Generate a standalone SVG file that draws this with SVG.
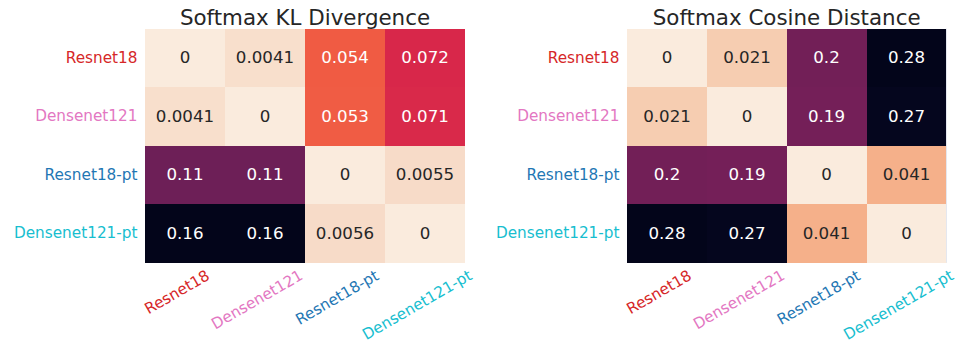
<svg xmlns="http://www.w3.org/2000/svg" width="959" height="347" viewBox="0 0 959 347">
  <style>
    text { font-family: "DejaVu Sans", "Liberation Sans", sans-serif; }
    .title { font-size: 21.4px; fill: #262626; text-anchor: middle; }
    .val { font-size: 16.67px; text-anchor: middle; }
    .dk { fill: #262626; }
    .lt { fill: #ffffff; }
    .ylab { font-size: 15.28px; text-anchor: end; }
    .xlab { font-size: 15.28px; text-anchor: middle; }
    .c-r18 { fill: #d62728; }
    .c-d121 { fill: #e377c2; }
    .c-r18pt { fill: #1f77b4; }
    .c-d121pt { fill: #17becf; }
  </style>

  <rect width="959" height="347" fill="#ffffff"/>

  <!-- Left heatmap: softmax KL divergence -->
  <g id="kl-heatmap">
    <text class="title" x="305" y="24.7">Softmax KL Divergence</text>
    <g id="kl-cells" shape-rendering="crispEdges">
      <rect x="145" y="28.6" width="80" height="58.5" fill="#faebdd"/>
      <rect x="225" y="28.6" width="80" height="58.5" fill="#f8dfcc"/>
      <rect x="305" y="28.6" width="80" height="58.5" fill="#f05b43"/>
      <rect x="385" y="28.6" width="80" height="58.5" fill="#d8274a"/>

      <rect x="145" y="87.1" width="80" height="58.5" fill="#f8dfcc"/>
      <rect x="225" y="87.1" width="80" height="58.5" fill="#faebdd"/>
      <rect x="305" y="87.1" width="80" height="58.5" fill="#f05c44"/>
      <rect x="385" y="87.1" width="80" height="58.5" fill="#d9294a"/>

      <rect x="145" y="145.6" width="80" height="58.5" fill="#6d1f57"/>
      <rect x="225" y="145.6" width="80" height="58.5" fill="#6d1f57"/>
      <rect x="305" y="145.6" width="80" height="58.5" fill="#faebdd"/>
      <rect x="385" y="145.6" width="80" height="58.5" fill="#f7dbc8"/>

      <rect x="145" y="204.1" width="80" height="58.5" fill="#03051a"/>
      <rect x="225" y="204.1" width="80" height="58.5" fill="#03051a"/>
      <rect x="305" y="204.1" width="80" height="58.5" fill="#f7dbc8"/>
      <rect x="385" y="204.1" width="80" height="58.5" fill="#faebdd"/>
    </g>
    <g id="kl-values">
      <text class="val dk" x="185" y="63.2">0</text>
      <text class="val dk" x="265" y="63.2">0.0041</text>
      <text class="val lt" x="345" y="63.2">0.054</text>
      <text class="val lt" x="425" y="63.2">0.072</text>

      <text class="val dk" x="185" y="121.7">0.0041</text>
      <text class="val dk" x="265" y="121.7">0</text>
      <text class="val lt" x="345" y="121.7">0.053</text>
      <text class="val lt" x="425" y="121.7">0.071</text>

      <text class="val lt" x="185" y="180.2">0.11</text>
      <text class="val lt" x="265" y="180.2">0.11</text>
      <text class="val dk" x="345" y="180.2">0</text>
      <text class="val dk" x="425" y="180.2">0.0055</text>

      <text class="val lt" x="185" y="238.7">0.16</text>
      <text class="val lt" x="265" y="238.7">0.16</text>
      <text class="val dk" x="345" y="238.7">0.0056</text>
      <text class="val dk" x="425" y="238.7">0</text>
    </g>
    <g id="kl-ylabels">
      <text class="ylab c-r18" x="137.5" y="62.5">Resnet18</text>
      <text class="ylab c-d121" x="137.5" y="121">Densenet121</text>
      <text class="ylab c-r18pt" x="137.5" y="179.5">Resnet18-pt</text>
      <text class="ylab c-d121pt" x="137.5" y="238">Densenet121-pt</text>
    </g>
    <g id="kl-xlabels">
      <text class="xlab c-r18" x="179.7" y="296.6" transform="rotate(-30 179.7 296.6)">Resnet18</text>
      <text class="xlab c-d121" x="259.7" y="304.1" transform="rotate(-30 259.7 304.1)">Densenet121</text>
      <text class="xlab c-r18pt" x="339.7" y="301.9" transform="rotate(-30 339.7 301.9)">Resnet18-pt</text>
      <text class="xlab c-d121pt" x="419.7" y="309.4" transform="rotate(-30 419.7 309.4)">Densenet121-pt</text>
    </g>
  </g>

  <!-- Right heatmap: softmax cosine distance -->
  <g id="cos-heatmap">
    <text class="title" x="786.7" y="24.7">Softmax Cosine Distance</text>
    <g id="cos-cells" shape-rendering="crispEdges">
      <rect x="627" y="28.6" width="80" height="58.5" fill="#faebdd"/>
      <rect x="707" y="28.6" width="80" height="58.5" fill="#f6cdb1"/>
      <rect x="787" y="28.6" width="80" height="58.5" fill="#721f57"/>
      <rect x="867" y="28.6" width="80" height="58.5" fill="#03051a"/>

      <rect x="627" y="87.1" width="80" height="58.5" fill="#f6cdb1"/>
      <rect x="707" y="87.1" width="80" height="58.5" fill="#faebdd"/>
      <rect x="787" y="87.1" width="80" height="58.5" fill="#741f58"/>
      <rect x="867" y="87.1" width="80" height="58.5" fill="#05061e"/>

      <rect x="627" y="145.6" width="80" height="58.5" fill="#721f57"/>
      <rect x="707" y="145.6" width="80" height="58.5" fill="#741f58"/>
      <rect x="787" y="145.6" width="80" height="58.5" fill="#faebdd"/>
      <rect x="867" y="145.6" width="80" height="58.5" fill="#f5b08a"/>

      <rect x="627" y="204.1" width="80" height="58.5" fill="#03051a"/>
      <rect x="707" y="204.1" width="80" height="58.5" fill="#05061e"/>
      <rect x="787" y="204.1" width="80" height="58.5" fill="#f5b08a"/>
      <rect x="867" y="204.1" width="80" height="58.5" fill="#faebdd"/>
    </g>
    <line x1="946.5" y1="28.6" x2="946.5" y2="262.6" stroke="#e4e7ef" stroke-width="1"/>
    <g id="cos-values">
      <text class="val dk" x="667" y="63.2">0</text>
      <text class="val dk" x="747" y="63.2">0.021</text>
      <text class="val lt" x="826.5" y="63.2">0.2</text>
      <text class="val lt" x="906.5" y="63.2">0.28</text>

      <text class="val dk" x="667" y="121.7">0.021</text>
      <text class="val dk" x="747" y="121.7">0</text>
      <text class="val lt" x="826.5" y="121.7">0.19</text>
      <text class="val lt" x="906.5" y="121.7">0.27</text>

      <text class="val lt" x="667" y="180.2">0.2</text>
      <text class="val lt" x="747" y="180.2">0.19</text>
      <text class="val dk" x="826.5" y="180.2">0</text>
      <text class="val dk" x="906.5" y="180.2">0.041</text>

      <text class="val lt" x="667" y="238.7">0.28</text>
      <text class="val lt" x="747" y="238.7">0.27</text>
      <text class="val dk" x="826.5" y="238.7">0.041</text>
      <text class="val dk" x="906.5" y="238.7">0</text>
    </g>
    <g id="cos-ylabels">
      <text class="ylab c-r18" x="619.5" y="62.5">Resnet18</text>
      <text class="ylab c-d121" x="619.5" y="121">Densenet121</text>
      <text class="ylab c-r18pt" x="619.5" y="179.5">Resnet18-pt</text>
      <text class="ylab c-d121pt" x="619.5" y="238">Densenet121-pt</text>
    </g>
    <g id="cos-xlabels">
      <text class="xlab c-r18" x="661.7" y="296.6" transform="rotate(-30 661.7 296.6)">Resnet18</text>
      <text class="xlab c-d121" x="741.5" y="304.1" transform="rotate(-30 741.5 304.1)">Densenet121</text>
      <text class="xlab c-r18pt" x="821.3" y="301.9" transform="rotate(-30 821.3 301.9)">Resnet18-pt</text>
      <text class="xlab c-d121pt" x="901.1" y="309.4" transform="rotate(-30 901.1 309.4)">Densenet121-pt</text>
    </g>
  </g>
</svg>
